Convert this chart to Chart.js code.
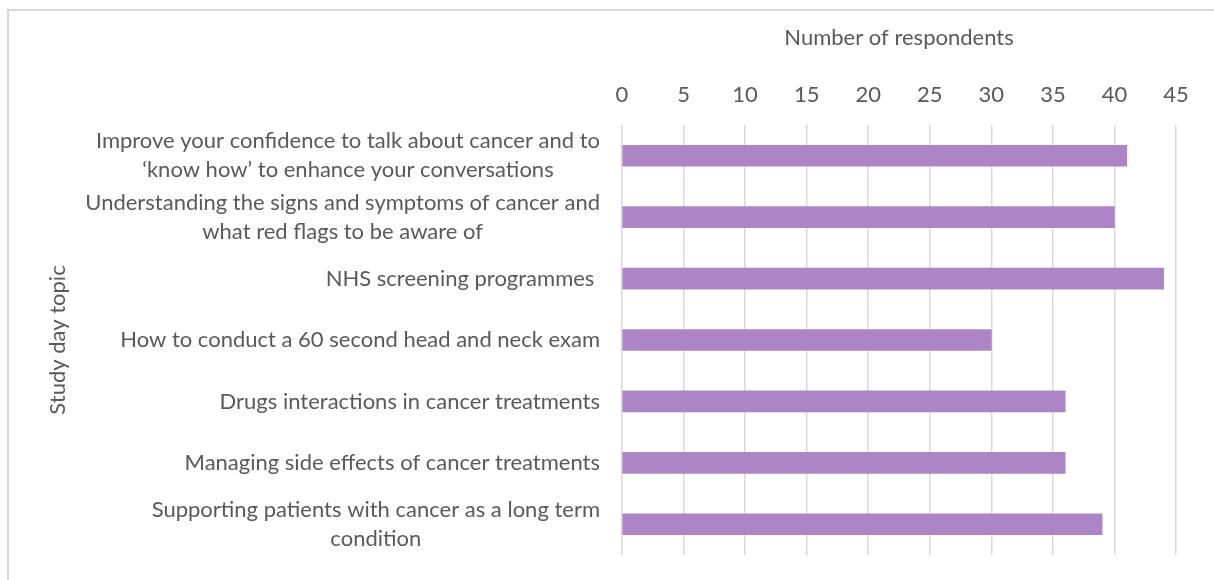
<!DOCTYPE html>
<html>
<head>
<meta charset="utf-8">
<title>Study day topics</title>
<script src="https://cdn.jsdelivr.net/npm/chart.js@4.4.1/dist/chart.umd.min.js"></script>
<style>
  html, body { margin: 0; padding: 0; background: #fff; overflow: hidden; }
  .frame {
    position: absolute; left: 7px; top: 9px; width: 1240px; height: 620px;
    border: 2px solid #d9d9d9; box-sizing: border-box;
  }
  .wrap { position: absolute; left: 0; top: 0; width: 1214px; height: 580px; }
</style>
</head>
<body>
<div class="frame"></div>
<div class="wrap"><canvas id="topics-chart"></canvas></div>
<script>
// each topic is a list of lines, the way the label wraps
const topics = [
  ["Improve your confidence to talk about cancer and to", "\u2018know how\u2019 to enhance your conversations"],
  ["Understanding the signs and symptoms of cancer and", "what red flags to be aware of"],
  ["NHS screening programmes "],
  ["How to conduct a 60 second head and neck exam"],
  ["Drugs interactions in cancer treatments"],
  ["Managing side effects of cancer treatments"],
  ["Supporting patients with cancer as a long term", "condition"],
];
const respondents = [41, 40, 44, 30, 36, 36, 39];
const xTicks = [0, 5, 10, 15, 20, 25, 30, 35, 40, 45];

const fontFamily = "Lato, 'Open Sans', sans-serif";
const fontSize = 22;
const textColor = "#595959";

// labels are right aligned as a block, with their lines centred
const centredLabels = {
  id: "centredLabels",
  afterDraw(chart) {
    const { ctx } = chart;
    const y = chart.scales.y;
    const lineHeight = 29;
    ctx.save();
    ctx.font = `${fontSize}px ${fontFamily}`;
    ctx.fillStyle = textColor;
    ctx.textAlign = "center";
    ctx.textBaseline = "middle";
    topics.forEach((lines, i) => {
      const cy = y.getPixelForValue(i);
      const blockWidth = Math.max(...lines.map((l) => ctx.measureText(l).width));
      const cx = y.right - 22 - blockWidth / 2;
      lines.forEach((line, j) => {
        ctx.fillText(line, cx, cy + (j - (lines.length - 1) / 2) * lineHeight);
      });
    });
    ctx.restore();
  },
};

const ctx = document.getElementById("topics-chart");
new Chart(ctx, {
  type: "bar",
  data: {
    labels: topics,
    datasets: [
      {
        data: respondents,
        backgroundColor: "#ad85c6",
        borderWidth: 0,
        barThickness: 21,
      },
    ],
  },
  options: {
    indexAxis: "y",
    responsive: true,
    maintainAspectRatio: false,
    animation: false,
    layout: {
      padding: { left: 0, right: 38, top: 0, bottom: 25 },
    },
    plugins: {
      legend: { display: false },
      tooltip: { enabled: false },
    },
    scales: {
      x: {
        position: "top",
        min: xTicks[0],
        max: xTicks[xTicks.length - 1],
        afterFit: (scale) => {
          scale.height = 125;
        },
        afterBuildTicks: (scale) => {
          scale.ticks = xTicks.map((v) => ({ value: v }));
        },
        ticks: {
          padding: 17,
          color: textColor,
          font: { family: fontFamily, size: fontSize },
        },
        grid: {
          color: "#d9d9d9",
          lineWidth: 1.5,
          drawTicks: false,
        },
        border: { display: false },
        title: {
          display: true,
          text: "Number of respondents",
          color: textColor,
          font: { family: fontFamily, size: fontSize },
          padding: { top: 25, bottom: 0 },
        },
      },
      y: {
        afterFit: (scale) => {
          scale.width = 622;
        },
        ticks: { display: false },
        grid: { display: false },
        border: { display: false },
        title: {
          display: true,
          text: "Study day topic",
          color: textColor,
          font: { family: fontFamily, size: fontSize },
          padding: { top: 45, bottom: 0 },
        },
      },
    },
  },
  plugins: [centredLabels],
});
</script>
</body>
</html>
